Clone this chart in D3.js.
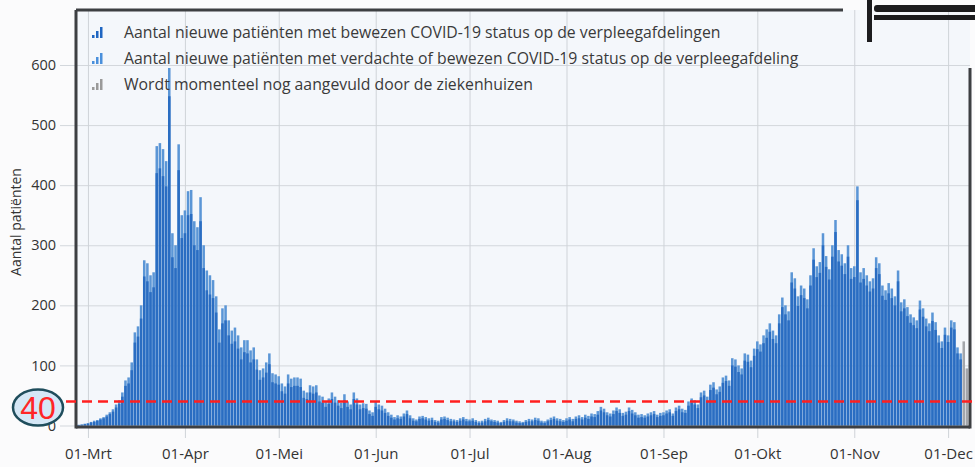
<!DOCTYPE html>
<html>
<head>
<meta charset="utf-8">
<script src="https://cdn.jsdelivr.net/npm/d3@7"></script>
<style>
  html, body { margin: 0; padding: 0; background: #fbfbfc; }
  svg { display: block; font-family: "Open Sans", "Noto Sans", sans-serif; }
</style>
</head>
<body>
<div id="chart"></div>
<script>
// daily values, first value = 27-02-2020
var startDate = new Date(Date.UTC(2020, 1, 27));

// verdachte of bewezen COVID-19 status (light blue, total)
var verdachtOfBewezen = [
  1, 2, 3,
  4, 6, 8, 9, 12, 14, 18, 22, 27, 35, 42, 55, 75, 80, 105, 155, 165, 200, 275, 270, 250, 255, 465, 470, 460, 440, 595, 320, 300, 468, 350,
  358, 390, 392, 340, 330, 380, 300, 258, 250, 242, 215, 160, 195, 200, 175, 158, 163, 150, 130, 142, 142, 125, 130, 110, 92, 95, 105, 120, 87, 85,
  82, 70, 65, 85, 78, 80, 80, 78, 58, 55, 67, 65, 67, 50, 48, 40, 45, 55, 48, 42, 38, 52, 40, 35, 55, 45, 35, 37, 36, 25, 22,
  40, 35, 33, 28, 22, 18, 14, 17, 15, 20, 25, 17, 12, 10, 15, 16, 14, 12, 13, 9, 8, 14, 15, 13, 11, 10, 9, 12, 14, 11,
  10, 12, 9, 7, 8, 11, 13, 10, 9, 8, 6, 9, 12, 11, 10, 8, 7, 6, 9, 11, 10, 13, 12, 8, 7, 10, 13, 15, 12, 11, 9,
  12, 14, 11, 15, 17, 14, 18, 16, 20, 19, 24, 31, 28, 22, 20, 25, 30, 27, 21, 23, 30, 26, 22, 18, 19, 17, 20, 22, 24, 18, 21,
  22, 25, 27, 20, 30, 33, 28, 26, 40, 45, 42, 35, 55, 58, 48, 68, 72, 60, 65, 80, 83, 75, 112, 110, 100, 95, 120, 118, 108, 128,
  140, 135, 150, 160, 170, 158, 150, 185, 213, 200, 190, 255, 245, 215, 233, 228, 210, 250, 295, 265, 272, 320, 282, 260, 300, 342, 292, 285, 270, 300, 262,
  265, 398, 255, 262, 250, 240, 245, 280, 270, 233, 225, 237, 228, 215, 258, 205, 210, 197, 185, 180, 175, 208, 195, 178, 170, 188, 172, 150, 140, 163,
  150, 175, 172, 130, 120
];

// bewezen COVID-19 status (dark blue)
var bewezen = [
  1, 1, 2,
  3, 5, 6, 8, 10, 12, 15, 19, 23, 30, 36, 48, 66, 70, 92, 138, 148, 178, 248, 240, 222, 230, 420, 428, 415, 398, 548, 280, 262, 425, 312,
  320, 350, 352, 300, 292, 340, 262, 225, 218, 212, 188, 138, 170, 175, 150, 136, 140, 128, 110, 122, 120, 105, 110, 93, 76, 80, 88, 102, 72, 70,
  68, 57, 53, 70, 64, 66, 66, 64, 46, 44, 55, 53, 55, 40, 38, 31, 36, 44, 38, 33, 29, 42, 31, 27, 44, 35, 27, 29, 28, 19, 16,
  31, 27, 25, 21, 16, 13, 10, 12, 11, 15, 19, 12, 8, 7, 11, 12, 10, 8, 9, 6, 5, 10, 11, 9, 7, 7, 6, 8, 10, 7,
  7, 8, 6, 4, 5, 7, 9, 7, 6, 5, 4, 6, 8, 7, 7, 5, 4, 4, 6, 7, 7, 9, 8, 5, 4, 7, 9, 11, 8, 7, 6,
  8, 10, 7, 11, 12, 10, 13, 11, 15, 14, 18, 25, 22, 17, 15, 19, 24, 21, 16, 18, 24, 20, 17, 13, 14, 13, 15, 17, 19, 14, 16,
  17, 20, 22, 16, 24, 27, 22, 21, 33, 38, 35, 29, 47, 50, 41, 59, 63, 52, 56, 71, 74, 66, 100, 98, 89, 85, 108, 106, 97, 116,
  127, 123, 137, 146, 156, 144, 137, 170, 197, 185, 175, 238, 228, 199, 217, 212, 195, 233, 276, 247, 254, 300, 264, 243, 281, 322, 273, 266, 252, 281, 244,
  247, 375, 238, 244, 233, 223, 228, 262, 252, 216, 209, 220, 212, 200, 240, 190, 195, 182, 171, 167, 162, 193, 181, 165, 157, 174, 159, 138, 129, 151,
  139, 163, 160, 120, 110
];

// wordt nog aangevuld (grey), from 06-12-2020
var aanvullenStart = new Date(Date.UTC(2020, 11, 6));
var aanvullen = [140, 95];

var yTicks = [0, 100, 200, 300, 400, 500, 600];
var monthNames = ["Jan", "Feb", "Mrt", "Apr", "Mei", "Jun", "Jul", "Aug", "Sep", "Okt", "Nov", "Dec"];
var xTickMonths = [2, 3, 4, 5, 6, 7, 8, 9, 10, 11];
var legendLabels = [
  "Aantal nieuwe patiënten met bewezen COVID-19 status op de verpleegafdelingen",
  "Aantal nieuwe patiënten met verdachte of bewezen COVID-19 status op de verpleegafdeling",
  "Wordt momenteel nog aangevuld door de ziekenhuizen"
];
var drempel = 40;

var svgWidth = 975, svgHeight = 467;
var plot = { left: 77, right: 970, top: 10, bottom: 427 };

var colDark = "#2a6dc2", colLight = "#5b96d6", colGrey = "#a3a6ab";

var svg = d3.select("#chart").append("svg")
  .attr("width", svgWidth)
  .attr("height", svgHeight);

// plot background
svg.append("rect")
  .attr("x", plot.left).attr("y", plot.top)
  .attr("width", plot.right - plot.left).attr("height", plot.bottom - plot.top)
  .attr("fill", "#f4f7fb");

var x = d3.scaleUtc()
  .domain([new Date(Date.UTC(2020, 1, 26, 12)), new Date(Date.UTC(2020, 11, 8))])
  .range([plot.left, plot.right]);

var y = d3.scaleLinear()
  .domain([0, 600])
  .range([425.5, 65]);

// y axis + horizontal grid
var yAxis = svg.append("g")
  .attr("transform", "translate(60,0)")
  .call(d3.axisLeft(y).tickValues(yTicks).tickSize(-(plot.right - 60)).tickPadding(4));
yAxis.select(".domain").remove();
yAxis.selectAll(".tick line").attr("stroke", "#d3d7dc");
yAxis.selectAll(".tick text").attr("fill", "#333").attr("font-size", "14.5px")
  .attr("font-family", "Open Sans, sans-serif");

// x axis + vertical grid
var xTicks = xTickMonths.map(function(m) { return new Date(Date.UTC(2020, m, 1)); });
var xAxis = svg.append("g")
  .attr("transform", "translate(0,438)")
  .call(d3.axisBottom(x).tickValues(xTicks).tickSize(-(438 - plot.top)).tickPadding(10)
    .tickFormat(function(d) { return "01-" + monthNames[d.getUTCMonth()]; }));
xAxis.select(".domain").remove();
xAxis.selectAll(".tick line").attr("stroke", "#cfd3d8");
xAxis.selectAll(".tick text").attr("fill", "#333").attr("font-size", "15px")
  .attr("font-family", "Open Sans, sans-serif");

// bars
svg.append("clipPath").attr("id", "clip")
  .append("rect")
  .attr("x", plot.left).attr("y", 0)
  .attr("width", plot.right - plot.left).attr("height", plot.bottom);

var step = x(d3.utcDay.offset(startDate, 1)) - x(startDate);
var barW = step - 0.6;

function drawBars(values, start, color) {
  svg.append("g")
    .attr("clip-path", "url(#clip)")
    .selectAll("rect")
    .data(values)
    .enter()
    .append("rect")
    .attr("x", function(d, i) { return x(d3.utcDay.offset(start, i)) - barW / 2; })
    .attr("y", function(d) { return y(d); })
    .attr("width", barW)
    .attr("height", function(d) { return y(0) - y(d); })
    .attr("fill", color);
}

drawBars(verdachtOfBewezen, startDate, colLight);
drawBars(bewezen, startDate, colDark);
drawBars(aanvullen, aanvullenStart, colGrey);

// frame of the screen
var frame = svg.append("g").attr("stroke", "#3d3f42").attr("stroke-width", 3).attr("fill", "none");
frame.append("line").attr("x1", plot.left - 1).attr("x2", plot.left - 1).attr("y1", plot.top).attr("y2", plot.bottom + 1.5);
frame.append("line").attr("x1", plot.left - 1).attr("x2", plot.right).attr("y1", plot.bottom).attr("y2", plot.bottom);
frame.append("line").attr("x1", plot.left - 1).attr("x2", 843).attr("y1", plot.top).attr("y2", plot.top);
frame.append("line").attr("x1", plot.right).attr("x2", plot.right).attr("y1", 68).attr("y2", plot.bottom + 1.5);

// dark marks top right
var corner = svg.append("g").attr("fill", "#1c1c1e");
corner.append("rect").attr("x", 867).attr("y", 0).attr("width", 5).attr("height", 42);
corner.append("rect").attr("x", 874).attr("y", 5).attr("width", 110).attr("height", 7).attr("rx", 3);
corner.append("rect").attr("x", 874).attr("y", 15).attr("width", 110).attr("height", 5);

// red dashed line at 40
svg.append("line")
  .attr("x1", 66).attr("x2", svgWidth)
  .attr("y1", y(drempel)).attr("y2", y(drempel))
  .attr("stroke", "#ff1f1f")
  .attr("stroke-width", 2.5)
  .attr("stroke-dasharray", "10,6");

// legend
var legendColors = ["#1f66c2", "#4a90dc", "#9a9a9a"];
var legend = svg.append("g");
legendLabels.forEach(function(label, i) {
  var ly = 33 + i * 26;
  var row = legend.append("g").attr("transform", "translate(92," + ly + ")");
  [[0, 3], [4, 7], [8, 11]].forEach(function(b) {
    row.append("rect").attr("x", b[0]).attr("y", 5 - b[1])
      .attr("width", 2.5).attr("height", b[1]).attr("fill", legendColors[i]);
  });
  row.append("text")
    .attr("x", 32).attr("y", 5)
    .attr("fill", "#3a3a3a")
    .attr("font-size", "15.8px")
    .text(label);
});

// y axis label
svg.append("text")
  .attr("transform", "translate(21,222) rotate(-90)")
  .attr("text-anchor", "middle")
  .attr("fill", "#333")
  .attr("font-size", "14px")
  .text("Aantal patiënten");

// circled 40
svg.append("ellipse")
  .attr("cx", 38).attr("cy", y(drempel) + 6)
  .attr("rx", 25).attr("ry", 18)
  .attr("fill", "#d5e7f6")
  .attr("stroke", "#1f4d5c")
  .attr("stroke-width", 2.5);
svg.append("text")
  .attr("x", 38).attr("y", y(drempel) + 6)
  .attr("dy", "0.36em")
  .attr("text-anchor", "middle")
  .attr("font-family", "Liberation Sans, Arial, sans-serif")
  .attr("font-size", "32px")
  .attr("fill", "#ff2626")
  .text(drempel);
</script>
</body>
</html>
